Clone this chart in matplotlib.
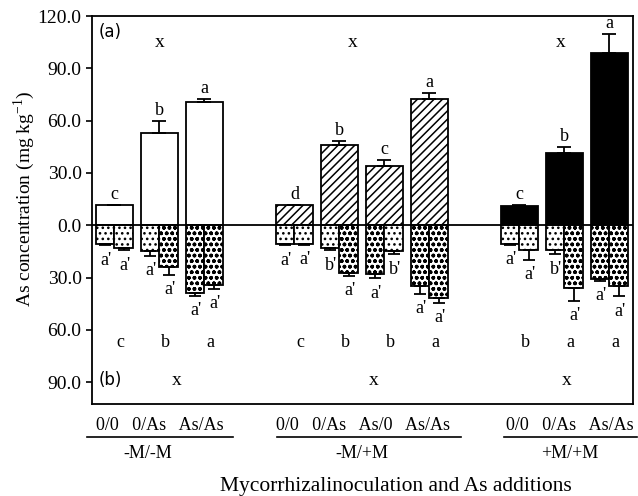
import matplotlib
matplotlib.use('Agg')
import matplotlib.pyplot as plt
import matplotlib.transforms as mtransforms
import numpy as np

plt.rcParams['font.family'] = ['Liberation Serif', 'DejaVu Serif']
plt.rcParams['hatch.linewidth'] = 1.1

# treatments (left part / right part) and group names
treatments = ['0/0', '0/As', 'As/As',
              '0/0', '0/As', 'As/0', 'As/As',
              '0/0', '0/As', 'As/As']
groups = ['-M/-M', '-M/+M', '+M/+M']
group_of = [0, 0, 0, 1, 1, 1, 1, 2, 2, 2]

# (a) shoot As concentration
shoot = [11.4, 53.1, 70.7, 11.4, 45.9, 33.9, 72.6, 11.0, 41.5, 98.7]
shoot_err = [0.3, 6.5, 1.9, 0.0, 2.5, 3.4, 3.4, 0.4, 3.2, 11.0]
shoot_letters = ['c', 'b', 'a', 'd', 'b', 'c', 'a', 'c', 'b', 'a']

# (b) root As concentration, left and right compartments
root_l = [10.9, 15.0, 38.9, 10.9, 13.3, 28.0, 35.0, 10.9, 14.3, 30.9]
root_l_err = [0.6, 2.5, 1.5, 0.6, 1.0, 2.5, 4.4, 0.4, 2.3, 0.8]
root_r = [12.8, 24.2, 34.3, 10.9, 27.4, 15.0, 41.7, 14.3, 36.2, 35.0]
root_r_err = [1.5, 4.4, 2.3, 0.3, 1.6, 1.6, 2.9, 5.7, 7.0, 5.7]
root_l_letters = ["a'", "a'", "a'", "a'", "b'", "a'", "a'", "a'", "b'", "a'"]
root_r_letters = ["a'", "a'", "a'", "a'", "a'", "b'", "a'", "a'", "a'", "a'"]
root_letters = ['c', 'b', 'a', 'c', 'b', 'b', 'a', 'b', 'a', 'a']

xpos = np.array([0.5, 1.5, 2.5, 4.5, 5.5, 6.5, 7.5, 9.5, 10.5, 11.5])
w = 0.83
shoot_style = [dict(facecolor='white', hatch=None),
               dict(facecolor='white', hatch='////'),
               dict(facecolor='black', hatch=None)]

fig = plt.figure(figsize=(6.38, 4.96), dpi=100)
ax = fig.add_axes([0.1442, 0.1855, 0.8478, 0.7822])

fs = 13
for i, x in enumerate(xpos):
    st = shoot_style[group_of[i]]
    ax.bar(x, shoot[i], w, color=st['facecolor'], edgecolor='black',
           hatch=st['hatch'], linewidth=1.3, zorder=2)
    ax.errorbar(x, shoot[i], yerr=[[0], [shoot_err[i]]], fmt='none',
                ecolor='black', elinewidth=1.3, capsize=5, capthick=1.3, zorder=3)
    ax.text(x, shoot[i] + shoot_err[i] + 6.0, shoot_letters[i],
            ha='center', va='center', fontsize=fs, clip_on=False)

    left_part, right_part = treatments[i].split('/')
    for side, val, err, lab, part in [(-1, root_l[i], root_l_err[i], root_l_letters[i], left_part),
                                      (1, root_r[i], root_r_err[i], root_r_letters[i], right_part)]:
        xc = x + side * w / 4
        hatch = 'ooo' if part == 'As' else '...'
        ax.bar(xc, -val, w / 2, color='white', edgecolor='black',
               hatch=hatch, linewidth=1.3, zorder=2)
        ax.errorbar(xc, -val, yerr=[[err], [0]], fmt='none', ecolor='black',
                    elinewidth=1.3, capsize=4, capthick=1.3, zorder=3)
        off = -0.18 if side < 0 else 0.24
        ax.text(x + off, -val - err - 8.5, lab, ha='center', va='center', fontsize=fs)
    ax.text(x + 0.14, -67, root_letters[i], ha='center', va='center', fontsize=fs)

ax.axhline(0, color='black', linewidth=1.3, zorder=4)

for xx in [1.51, 5.8, 10.42]:
    ax.text(xx, 105, 'x', ha='center', va='center', fontsize=fs + 1)
for xx in [1.89, 6.25, 10.56]:
    ax.text(xx, -89, 'x', ha='center', va='center', fontsize=fs + 1)
ax.text(0.15, 111, '(a)', ha='left', va='center', fontsize=12, family='DejaVu Sans')
ax.text(0.15, -89, '(b)', ha='left', va='center', fontsize=12, family='DejaVu Sans')

ax.set_xlim(0, 12.02)
ax.set_ylim(-102.5, 120)
yt = [120, 90, 60, 30, 0, -30, -60, -90]
ax.set_yticks(yt)
ax.set_yticklabels(['%.1f' % abs(v) for v in yt], fontsize=14)
ax.set_xticks([])
ax.tick_params(axis='y', direction='out', length=4, width=1.2)
for s in ax.spines.values():
    s.set_linewidth(1.3)
ax.set_ylabel('As concentration (mg kg$^{\\mathregular{ -1}}$)', fontsize=14)
ax.yaxis.set_label_coords(-0.102, 0.53)

# treatment labels below the axes
trans = mtransforms.blended_transform_factory(ax.transData, fig.transFigure)
sub_text = ['0/0   0/As   As/As', '0/0   0/As   As/0   As/As', '0/0   0/As   As/As']
sub_x = [1.51, 6.03, 10.62]
line_x = [(-0.11, 3.13), (4.11, 8.2), (9.16, 12.11)]
grp_x = [1.25, 6.0, 10.62]
for g in range(3):
    ax.text(sub_x[g], 1 - 426 / 496, sub_text[g], transform=trans,
            ha='center', va='center', fontsize=fs)
    ax.plot(line_x[g], [1 - 437 / 496] * 2, transform=trans, color='black',
            linewidth=1.2, clip_on=False)
    ax.text(grp_x[g], 1 - 453 / 496, groups[g], transform=trans,
            ha='center', va='center', fontsize=fs)
fig.text(0.621, 1 - 487 / 496, 'Mycorrhizalinoculation and As additions',
         ha='center', va='center', fontsize=15.5)

fig.savefig('out.png', dpi=100)
